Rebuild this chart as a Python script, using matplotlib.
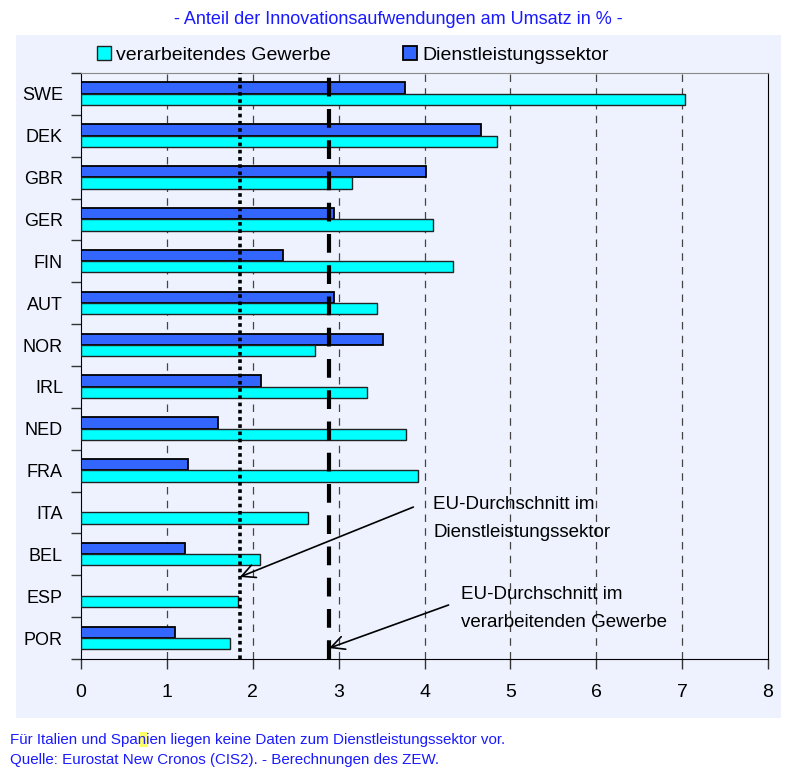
import matplotlib.pyplot as plt
import matplotlib.patches as mpatches
import numpy as np

# data
countries = ['SWE', 'DEK', 'GBR', 'GER', 'FIN', 'AUT', 'NOR', 'IRL', 'NED', 'FRA', 'ITA', 'BEL', 'ESP', 'POR']
verarb = [7.03, 4.85, 3.16, 4.10, 4.33, 3.45, 2.73, 3.33, 3.79, 3.93, 2.64, 2.08, 1.83, 1.73]
dienst = [3.77, 4.66, 4.02, 2.95, 2.35, 2.95, 3.52, 2.10, 1.59, 1.25, np.nan, 1.21, np.nan, 1.10]
eu_dienst = 1.85
eu_verarb = 2.89

font = ['Liberation Sans', 'DejaVu Sans']
bg = '#edf2fe'
cyan = '#00ffff'
blue = '#3366ff'
W, H = 796, 769

fig = plt.figure(figsize=(W/100, H/100), dpi=100)
fig.patch.set_facecolor('white')
# light blue panel behind everything
panel = mpatches.Rectangle((16/W, 1 - 718/H), (781-16)/W, (718-35)/H,
                           transform=fig.transFigure, facecolor=bg, edgecolor='none', zorder=-10)
fig.add_artist(panel)

ax = fig.add_axes([81/W, 1 - 659/H, (768-81)/W, (659-73)/H])
ax.set_facecolor(bg)
ax.set_zorder(1)

y = np.arange(len(countries))
h = 0.27
ax.barh(y - 0.14, dienst, height=h, color=blue, edgecolor='black', linewidth=1.3, zorder=3,
        label='Dienstleistungssektor')
ax.barh(y + 0.13, verarb, height=h, color=cyan, edgecolor='#222222', linewidth=1.0, zorder=3,
        label='verarbeitendes Gewerbe')

ax.set_xlim(0, 8)
ax.set_ylim(len(countries) - 0.5, -0.5)

# grid
for gx in range(1, 8):
    ax.axvline(gx, color='#444444', lw=0.9, ls=(0, (6, 5)), zorder=1)

# EU averages
ax.axvline(eu_dienst, color='black', lw=2.6, ls=(0, (1, 1)), zorder=4)
ax.axvline(eu_verarb, color='black', lw=3.0, ls=(0, (4.5, 3)), zorder=4)

# spines and ticks
ax.spines['top'].set_color('#888888')
ax.spines['right'].set_color('black')
ax.spines['left'].set_color('black')
ax.spines['bottom'].set_color('black')
ax.set_xticks(range(0, 9))
ax.set_xticklabels([str(i) for i in range(0, 9)], family=font, fontsize=14)
ax.tick_params(axis='x', length=7, width=1, pad=11, color='#333333')
ax.set_yticks(y)
ax.set_yticklabels(countries, family=font, fontsize=13)
ax.tick_params(axis='y', length=0, pad=13)
ax.set_yticks(np.arange(-0.5, len(countries), 1), minor=True)
ax.tick_params(axis='y', which='minor', length=7, width=1, color='#333333')

# annotations: text and arrows
ax.text(4.1, 10.15, 'EU-Durchschnitt im\nDienstleistungssektor', family=font, fontsize=13.5,
        linespacing=1.85, va='center', ha='left', zorder=5)
ax.text(4.42, 12.3, 'EU-Durchschnitt im\nverarbeitenden Gewerbe', family=font, fontsize=13.5,
        linespacing=1.85, va='center', ha='left', zorder=5)
arrow = dict(arrowstyle='->', color='black', lw=1.2, shrinkA=0, shrinkB=0, mutation_scale=24)
ax.annotate('', xy=(eu_dienst, 11.54), xytext=(3.87, 9.87), arrowprops=arrow, zorder=5)
ax.annotate('', xy=(eu_verarb, 13.24), xytext=(4.28, 12.21), arrowprops=arrow, zorder=5)

# legend (cyan first)
handles, labels = ax.get_legend_handles_labels()
leg = fig.legend(handles[::-1], labels[::-1], loc='center left', bbox_to_anchor=(79/W, 1 - 55/H),
                 ncol=2, frameon=False, prop={'family': font, 'size': 14},
                 handlelength=0.75, handleheight=0.75, handletextpad=0.25, columnspacing=3.7)

fig.text(398/W, 1 - 19/H, '- Anteil der Innovationsaufwendungen am Umsatz in % -',
         ha='center', va='center', color='#1a1aff', family=font, fontsize=13)

# small yellow marker in "Spanien", as in the source
fig.add_artist(mpatches.Rectangle((140/W, 1 - 747/H), 8/W, 15/H, transform=fig.transFigure,
                                  facecolor='#ffff66', edgecolor='none', zorder=-5))
fig.text(10/W, 1 - 740/H, 'Für Italien und Spanien liegen keine Daten zum Dienstleistungssektor vor.',
         ha='left', va='center', color='#1a1aff', family=font, fontsize=10.9)
fig.text(10/W, 1 - 760/H, 'Quelle: Eurostat New Cronos (CIS2). - Berechnungen des ZEW.',
         ha='left', va='center', color='#1a1aff', family=font, fontsize=10.9)

fig.savefig('out.png', dpi=100)
